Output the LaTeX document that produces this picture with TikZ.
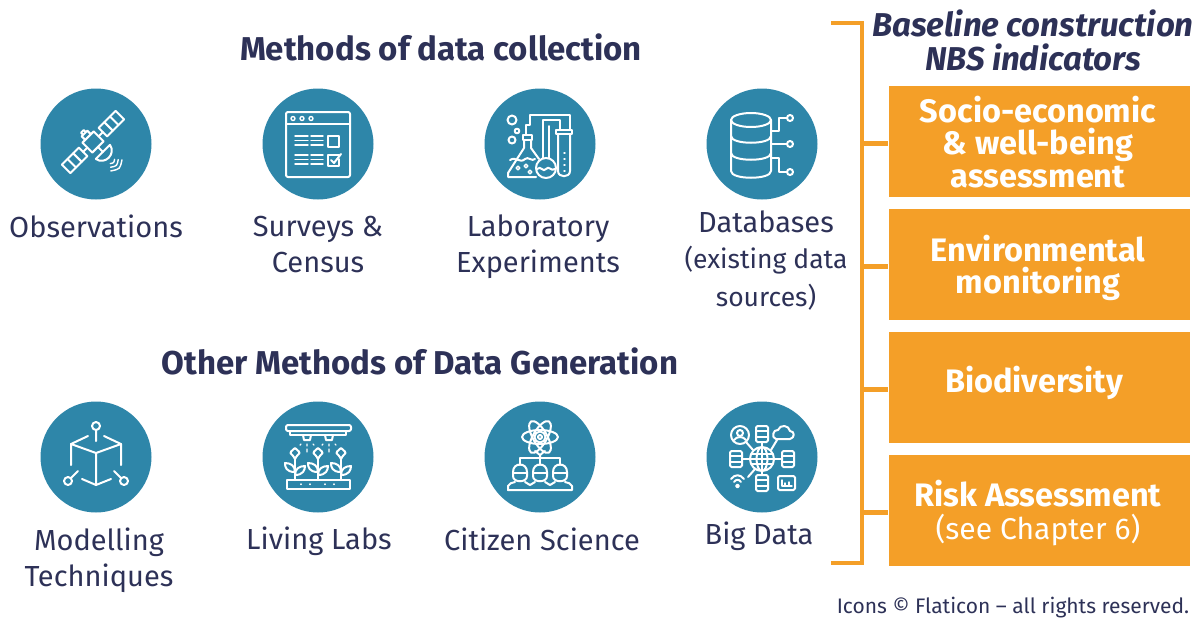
\documentclass[tikz,border=0pt]{standalone}
\usepackage{fontspec}
\setmainfont{Fira Sans}
\usetikzlibrary{calc,positioning}
\definecolor{tealdisc}{HTML}{2E86A9}
\definecolor{boxorange}{HTML}{F49F28}
\definecolor{inkblue}{HTML}{2D3157}
\newcommand{\pxfont}[1]{\fontsize{#1}{#1}\selectfont}
% one small database: three stacked rows
\newcommand{\dbicon}[2]{\draw[iconline,rounded corners=1.5] (#1-6,#2-8) rectangle (#1+6,#2+8);
	\draw[iconline] (#1-6,#2-2.7)--(#1+6,#2-2.7) (#1-6,#2+2.7)--(#1+6,#2+2.7);}
\tikzset{
	disc/.style={circle,fill=tealdisc,minimum size=111,inner sep=0},
	iconline/.style={draw=white,line width=2,line cap=round,line join=round},
	thinline/.style={iconline,line width=1.4},
	caption/.style={align=center,text=inkblue,font=\pxfont{29}},
	headline/.style={align=center,text=inkblue,font=\pxfont{33}\bfseries},
	topicbox/.style={fill=boxorange,minimum width=301,minimum height=111,inner sep=0},
	topictext/.style={align=center,text=white,font=\pxfont{32.5}\bfseries},
	bracketline/.style={draw=boxorange,line width=4.5},
}
\begin{document}
\begin{tikzpicture}[x=1pt,y=-1pt]
	\useasboundingbox (0,0) rectangle (1202,619);
	% headings
	\node[headline] (collect) at (441,47) {Methods of data collection};
	\node[headline] (generate) at (420,361) {Other Methods of Data Generation};
	% discs, first row
	\node[disc] (observe) at (96,144) {};
	\node[disc] (survey) at (318,144) {};
	\node[disc] (lab) at (540,144) {};
	\node[disc] (database) at (762,144) {};
	% discs, second row
	\node[disc] (model) at (96,457) {};
	\node[disc] (living) at (318,457) {};
	\node[disc] (citizen) at (540,457) {};
	\node[disc] (bigdata) at (762,457) {};
	% captions
	\node[caption] (observetext) at (96,226) {Observations};
	\node[caption] (surveytext) at (318,245) {Surveys \&\\[7pt]Census};
	\node[caption] (labtext) at (538,247) {Laboratory\\[7pt]Experiments};
	\node[caption] (databasetext) at (766,261) {Databases\\[7pt]{\pxfont{26.5}(existing data}\\[9pt]{\pxfont{26.5}sources)}};
	\node[caption] (modeltext) at (99,560) {Modelling\\[7pt]Techniques};
	\node[caption] (livingtext) at (319,541) {Living Labs};
	\node[caption] (citizentext) at (542,539) {Citizen Science};
	\node[caption] (bigdatatext) at (759,536) {Big Data};
	% right column
	\node[headline,font=\pxfont{33}\bfseries\itshape] (baseline) at (1033,40) {Baseline construction\\[1pt]NBS indicators};
	\node[topicbox] (socio) at (1039,141.5) {};
	\node[topicbox] (environ) at (1039,264.5) {};
	\node[topicbox] (biodiv) at (1039,387.5) {};
	\node[topicbox] (risk) at (1039,510.5) {};
	\node[topictext] (sociotext) at (1038,142) {Socio-economic\\\&{} well-being\\assessment};
	\node[topictext] (environtext) at (1038,268) {Environmental\\monitoring};
	\node[topictext] (biodivtext) at (1034,383) {Biodiversity};
	\node[topictext] (risktext) at (1038,513) {Risk Assessment\\{\mdseries\pxfont{30}(see Chapter 6)}};
	\node[text=inkblue,font=\pxfont{21}] (credit) at (1013,608) {Icons © Flaticon – all rights reserved.};
	% bracket
	\coordinate (topend) at (831,23);
	\coordinate (bottomend) at (831,563);
	\draw[bracketline] (topend) -| (862,563) -- (bottomend);
	\foreach \topic in {socio,environ,biodiv,risk} \draw[bracketline] ($(862,0 |- \topic)+(0,2)$) -- ($(\topic.west)+(0,2)$);
	% satellite
	\begin{scope}[shift={(observe)}]
		\begin{scope}[shift={(-3,-2)},rotate=45]
			\draw[iconline] (-8,-7) rectangle (8,7);
			\foreach \s in {-1,1} {
				\draw[iconline] (\s*8,0) -- (\s*14,0);
				\draw[iconline] (\s*14,-6) rectangle (\s*38,6);
				\draw[iconline] (\s*22,-6) -- (\s*22,6) (\s*30,-6) -- (\s*30,6);
			}
			\draw[iconline] (-4,-7) -- (-4,-12) -- (4,-12) -- (4,-7) (-2,-12) -- (-2,-15) -- (2,-15) -- (2,-12);
			\draw[iconline] (0,7) -- (0,14);
			\draw[iconline] (-10,14) -- (10,14) .. controls (8,25) and (-8,25) .. (-10,14);
			\foreach \r in {5,9,13} \draw[thinline] (-0.6*\r,24+0.7*\r) .. controls (0,24+1.1*\r) .. (0.6*\r,24+0.7*\r);
		\end{scope}
	\end{scope}
	% survey window
	\begin{scope}[shift={(survey)}]
		\draw[iconline,rounded corners=2] (-32,-32) rectangle (32,33);
		\draw[iconline] (-32,-20) -- (32,-20);
		\foreach \x in {-25,-16,-7} \draw[thinline] (\x,-25.5) circle[radius=2];
		\foreach \y in {-8,-3.5,1,11,15.5,20} \draw[thinline] (-23,\y) -- (-10,\y) (-7,\y) -- (5,\y);
		\draw[iconline] (10,-8) rectangle (21,3);
		\draw[iconline] (21,11) -- (10,11) -- (10,22) -- (21,22) -- (21,15);
		\draw[iconline] (13,16) -- (16,19) -- (23,10);
	\end{scope}
	% flasks
	\begin{scope}[shift={(lab)}]
		\draw[iconline] (-28,-24) circle[radius=4.5] (-23,-13) circle[radius=2.3] (-28,-4) circle[radius=3.5];
		\draw[iconline] (-17,-9) rectangle (-8,-4);
		\draw[iconline] (-16,-4) -- (-16,4) -- (-32,29) -- (-32,33) -- (-4,33);
		\draw[iconline] (-9,-4) -- (-9,4) -- (-1,15);
		\draw[iconline] (-30,16) .. controls (-24,12) and (-20,20) .. (-15,15) .. controls (-12,12) and (-8,18) .. (-5,15);
		\foreach \x/\y in {-22/24,-14/22,-10/28} \draw[thinline] (\x,\y) circle[radius=1.8];
		\draw[iconline] (6,24) circle[radius=10];
		\draw[iconline] (3,7) -- (3,14) (9,7) -- (9,14);
		\draw[iconline] (-3,25) .. controls (1,21) and (3,29) .. (6,25) .. controls (9,21) and (11,28) .. (15,25);
		\draw[iconline] (-14,-9) -- (-14,-19) -- (-10,-19) -- (-10,-29) -- (30,-29) -- (30,-14);
		\draw[iconline] (3,7) -- (3,-24) -- (20,-24) -- (20,-14) (9,7) -- (9,-18);
		\draw[iconline] (16,-14) rectangle (32,-10);
		\draw[iconline] (18,-10) -- (18,27) .. controls (18,34) and (30,34) .. (30,27) -- (30,-10);
		\foreach \y in {9,15,21,27} \draw[thinline] (24,\y) -- (25,\y);
	\end{scope}
	% cylinder with three leads
	\begin{scope}[shift={(database)}]
		\draw[iconline] (-11,-24) ellipse[x radius=20,y radius=7];
		\draw[iconline] (-31,-24) -- (-31,27) .. controls (-31,36) and (9,36) .. (9,27) -- (9,-24);
		\foreach \y in {-8,9} \draw[iconline] (-31,\y) .. controls (-31,\y+9) and (9,\y+9) .. (9,\y);
		\draw[iconline] (9,-13) -- (17,-13) -- (17,-26) -- (25,-26) (9,0) -- (25,0) (9,14) -- (17,14) -- (17,28) -- (25,28);
		\foreach \y in {-26,0,28} \draw[iconline] (28,\y) circle[radius=3];
	\end{scope}
	% cube
	\begin{scope}[shift={(model)}]
		\draw[iconline] (0,-31) circle[radius=4] (0,-27) -- (0,-16);
		\draw[iconline] (-8,-21) -- (-25,-13) -- (-25,8) (8,-21) -- (25,-13) -- (25,8);
		\draw[iconline] (-25,-13) -- (0,-4) -- (25,-13) (0,-4) -- (0,28);
		\draw[iconline] (-14,22) -- (0,28) -- (15,22);
		\draw[iconline] (-28,24) circle[radius=4] (-25,21) -- (-18,14);
		\draw[iconline] (28,24) circle[radius=4] (25,21) -- (18,14);
	\end{scope}
	% sprinklers and plants
	\begin{scope}[shift={(living)}]
		\draw[iconline,rounded corners=2] (-32,-32) rectangle (33,-26);
		\draw[iconline] (-28,-26) -- (-28,-22) -- (28,-22) -- (28,-26);
		\foreach \x in {-11,11} {
			\draw[iconline] (\x-4,-22) -- (\x-3,-17) -- (\x+3,-17) -- (\x+4,-22);
			\draw[thinline] (\x-6,-13) -- (\x-7,-12) (\x,-13) -- (\x,-11) (\x+6,-13) -- (\x+7,-12) (\x,-8) -- (\x,-5);
		}
		\foreach \x in {-23,0,23} {
			\draw[iconline] (\x,-9) .. controls (\x-8,-2) and (\x-4,-6) .. (\x,2) .. controls (\x+4,-6) and (\x+8,-2) .. (\x,-9);
			\draw[iconline] (\x,2) -- (\x,23);
			\draw[iconline] (\x,15) .. controls (\x-9,15) and (\x-10,10) .. (\x-10,6) .. controls (\x-4,6) and (\x,9) .. (\x,15);
			\draw[iconline] (\x,18) .. controls (\x+8,18) and (\x+10,13) .. (\x+10,9) .. controls (\x+4,9) and (\x,12) .. (\x,18);
		}
		\draw[iconline] (-31,23) rectangle (32,32);
		\foreach \x in {-17,-8,7,16} \draw[thinline] (\x,27) -- (\x,27.5);
	\end{scope}
	% atom over three people
	\begin{scope}[shift={(citizen)}]
		\foreach \a in {0,60,120} \draw[iconline,rotate around={\a:(0,-20)}] (0,-20) ellipse[x radius=18,y radius=7];
		\draw[iconline] (0,-20) circle[radius=5.5] (0,-20) circle[radius=2];
		\draw[iconline] (-5,-6) -- (0,-2) -- (5,-6) (0,-2) -- (0,1);
		\draw[iconline] (-20,8) -- (-20,1) -- (20,1) -- (20,8) (0,1) -- (0,8);
		\foreach \x in {-20,0,20} {
			\draw[iconline] (\x-7,15) .. controls (\x-7,5) and (\x+7,5) .. (\x+7,15) -- (\x+7,19) .. controls (\x+7,26) and (\x-7,26) .. (\x-7,19) -- cycle;
			\draw[iconline] (\x-7,16) -- (\x+7,16);
		}
		\draw[iconline] (-32,33) -- (-32,29) .. controls (-31,26) and (-28,26) .. (-25,25);
		\draw[iconline] (-32,33) -- (32,33) -- (32,29) .. controls (31,26) and (28,26) .. (25,25);
		\draw[iconline] (-15,25) -- (-10,28) -- (-5,25) (5,25) -- (10,28) -- (15,25);
	\end{scope}
	% globe with spokes
	\begin{scope}[shift={(bigdata)}]
		\draw[iconline] (0,2) circle[radius=12] (0,2) ellipse[x radius=5.5,y radius=12];
		\draw[iconline] (-12,2) -- (12,2) (-10.5,-3) -- (10.5,-3) (-10.5,7) -- (10.5,7) (0,-10) -- (0,14);
		\draw[iconline] (-22,-22) circle[radius=9] (-22,-24) circle[radius=3];
		\draw[iconline] (-28,-17) .. controls (-25,-21) and (-19,-21) .. (-16,-17);
		\draw[iconline] (-16,-15) -- (-9,-7);
		\dbicon{0}{-23}
		\dbicon{-26}{2}
		\dbicon{26}{2}
		\dbicon{0}{26}
		\draw[iconline] (0,-15) -- (0,-10) (-20,2) -- (-12,2) (12,2) -- (20,2) (0,14) -- (0,18);
		\draw[iconline] (14,-18) -- (28,-18) .. controls (33,-19) and (33,-26) .. (28,-26) .. controls (27,-32) and (18,-33) .. (16,-27) .. controls (11,-28) and (9,-19) .. (14,-18);
		\draw[iconline] (15,-17) -- (9,-7) (-7,12) -- (-14,20);
		\draw[iconline] (-31,22) .. controls (-27,17) and (-22,17) .. (-18,22) (-28,25) .. controls (-26,22) and (-23,22) .. (-21,25);
		\draw[iconline] (-24.5,29) circle[radius=1.5];
		\draw[iconline,rounded corners=1.5] (16,19) rectangle (33,33);
		\draw[thinline] (20,23) -- (20,29) -- (30,29) (23,29) -- (23,26) (27,29) -- (27,25);
	\end{scope}
\end{tikzpicture}
\end{document}
